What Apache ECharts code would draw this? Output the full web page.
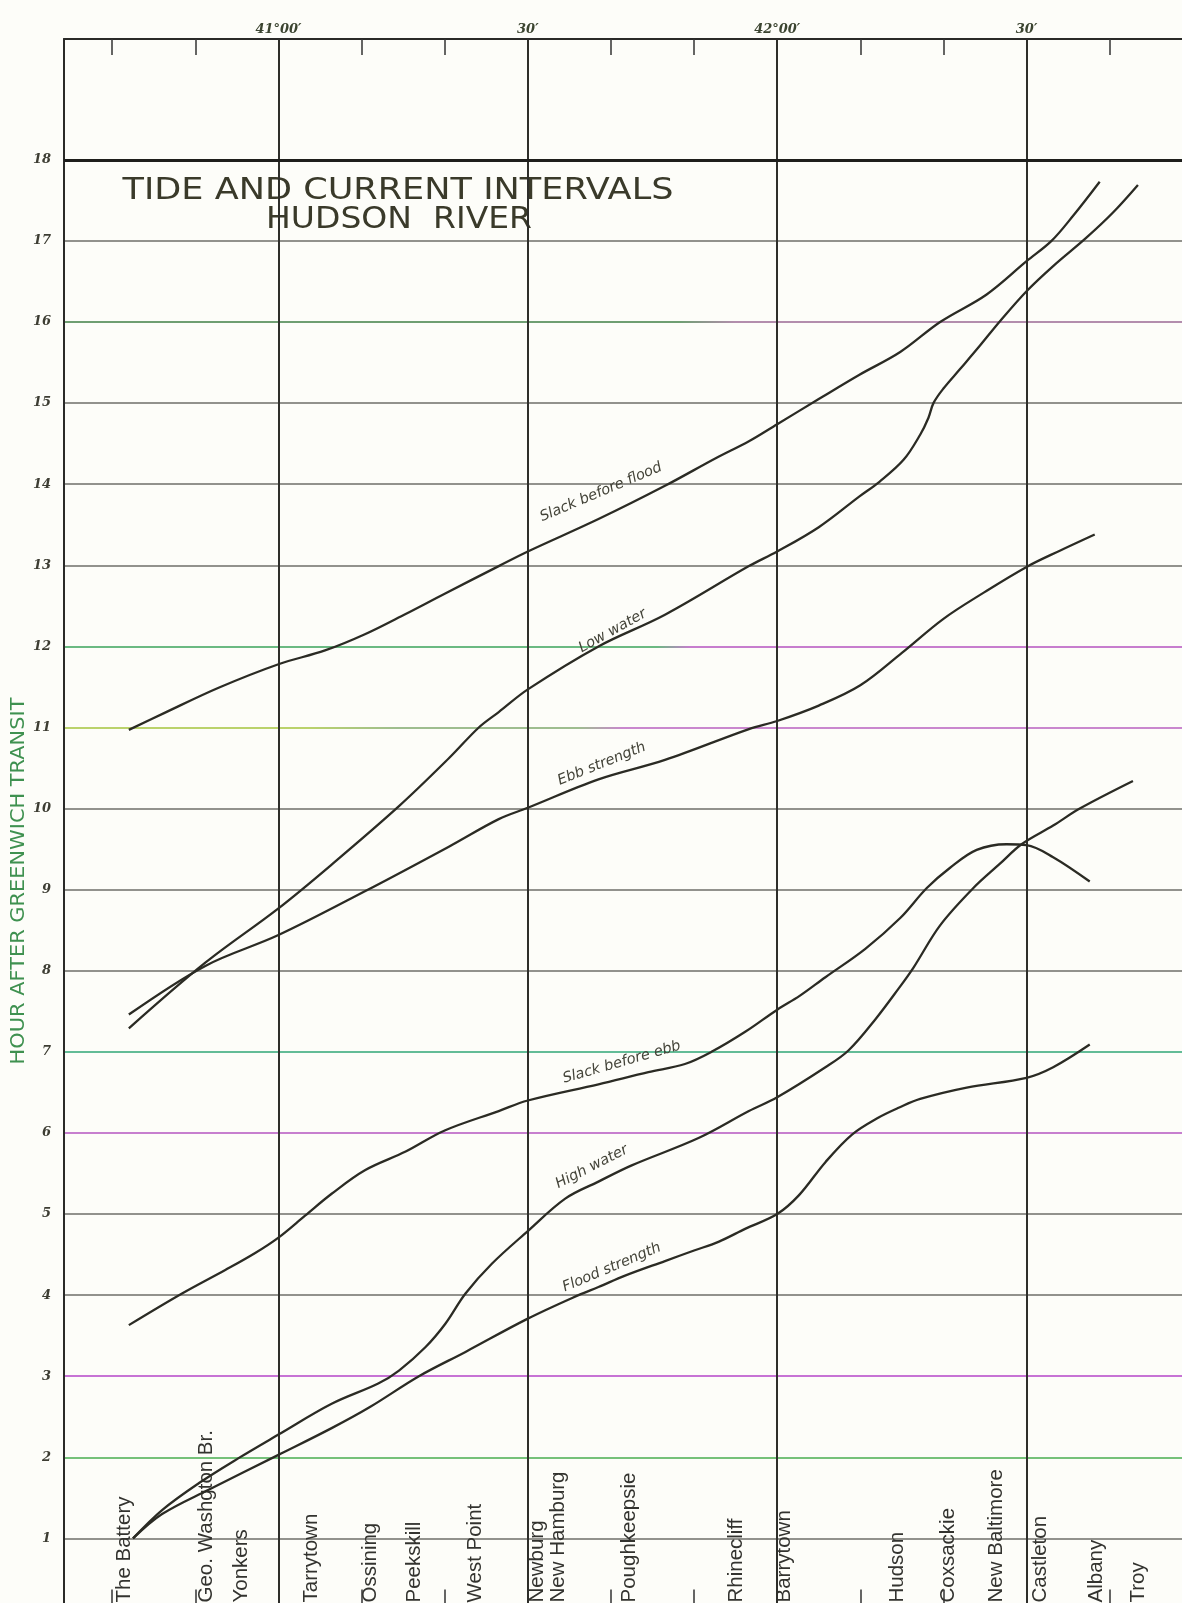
<!DOCTYPE html>
<html><head><meta charset="utf-8">
<script src="https://cdn.jsdelivr.net/npm/echarts@6/dist/echarts.min.js"></script>
<style>html,body{margin:0;padding:0;background:#fdfdf9}#c{width:1182px;height:1603px}</style>
</head><body><div id="c"></div>
<script>
// x values: minutes of latitude north of 40°N ; y values: hours after Greenwich transit
const stationNames = ['The Battery','Geo. Washgton Br.','Yonkers','Tarrytown','Ossining','Peekskill','West Point','Newburg','New Hamburg','Poughkeepsie','Rhinecliff','Barrytown','Hudson','Coxsackie','New Baltimore','Castleton','Albany','Troy'];
const stationLat = [41.5, 51.3, 55.5, 64, 71, 76.4, 83.7, 91.2, 93.7, 102.2, 115.1, 120.9, 134.5, 140.6, 146.4, 151.7, 158.4, 163.5];

const latLineValues = [60, 90, 120, 150];
const latLineLabels = ['41°00′', '30′', '42°00′', '30′'];
const latTickValues = [40, 50, 70, 80, 100, 110, 130, 140, 160];

const slackBeforeFlood = [[42,10.97],[46.3,11.18],[52.8,11.49],[60,11.78],[65.6,11.95],[70.4,12.15],[75.3,12.4],[80,12.65],[86.5,12.99],[90,13.17],[98.5,13.57],[106.5,13.98],[112.6,14.32],[116.6,14.53],[120,14.74],[125,15.05],[129.9,15.35],[134.8,15.63],[139.6,16.0],[145.2,16.34],[150,16.75],[153,17.0],[155.6,17.31],[158.8,17.73]];
const lowWater = [[42,7.29],[51.2,8.10],[60,8.77],[66.4,9.31],[74.5,10.03],[80.5,10.62],[84.1,11.0],[86.5,11.19],[90,11.47],[98.5,12.0],[106.5,12.39],[116.6,12.99],[120,13.17],[125,13.47],[129.9,13.85],[132.3,14.03],[135.2,14.3],[137.2,14.61],[138.2,14.82],[138.8,15.0],[140,15.18],[142,15.42],[144.4,15.71],[146.8,16.01],[150,16.38],[153.2,16.69],[157.2,17.04],[160.4,17.35],[163.4,17.69]];
const ebbStrength = [[42,7.46],[51.2,8.06],[60,8.44],[70.4,8.98],[80.5,9.53],[86.5,9.87],[90,10.01],[98.5,10.36],[106.5,10.6],[116.6,10.98],[120,11.08],[125,11.27],[130,11.52],[135,11.92],[140,12.34],[144.8,12.66],[150,12.98],[154,13.18],[158.2,13.38]];
const slackBeforeEbb = [[42,3.63],[48.4,4.02],[53.6,4.31],[57.2,4.52],[60,4.71],[63.2,4.98],[66.4,5.25],[70.4,5.54],[75.3,5.77],[80,6.03],[86.5,6.27],[90,6.4],[98.5,6.6],[104.5,6.75],[108.9,6.85],[112.1,7.0],[116.2,7.25],[120,7.52],[122.7,7.69],[125.8,7.92],[130.6,8.27],[134.8,8.65],[138,9.02],[140.8,9.27],[144,9.49],[147.6,9.56],[150,9.55],[153.2,9.4],[157.6,9.1]];
const highWater = [[42.5,1.0],[46,1.35],[50.4,1.68],[55.2,1.99],[60,2.28],[66.4,2.66],[72,2.91],[74.5,3.07],[77.7,3.36],[80.1,3.65],[82.5,4.02],[85.7,4.39],[90,4.79],[94.5,5.19],[98.5,5.4],[102.5,5.6],[110.6,5.94],[116.6,6.27],[120,6.44],[125.8,6.81],[128.6,7.02],[131.8,7.4],[134.6,7.78],[136.4,8.04],[139.6,8.56],[143.6,9.02],[146.8,9.32],[149.4,9.56],[153.2,9.79],[156.4,10.0],[162.8,10.34]];
const floodStrength = [[42.5,1.0],[46,1.3],[51.6,1.6],[60,2.03],[66.4,2.36],[71,2.62],[76.9,3.0],[82.5,3.3],[90,3.71],[96.1,4.0],[98.5,4.1],[101.7,4.24],[106.5,4.42],[110,4.55],[113,4.66],[116.2,4.82],[120,5.0],[122.6,5.23],[125.8,5.64],[129,5.98],[132.2,6.19],[134.6,6.31],[137.2,6.42],[142.8,6.56],[150,6.68],[153.2,6.81],[157.6,7.09]];

const curveNames = ['Slack before flood','Low water','Ebb strength','Slack before ebb','High water','Flood strength'];
const curveData = [slackBeforeFlood, lowWater, ebbStrength, slackBeforeEbb, highWater, floodStrength];
const curveLabelAt = [[98.8,13.9],[100.2,12.19],[98.9,10.55],[101.3,6.87],[97.7,5.58],[100.1,4.34]];
const curveLabelAngle = [23, 29, 22, 16, 27, 23];

const LG = (stops) => new echarts.graphic.LinearGradient(0, 0, 1, 0, stops.map(s => ({offset: s[0], color: s[1]})));
const gray = '#6e6e68';
const hourLineColors = [
  'rgba(0,0,0,0)', gray, '#47ad4f', '#b444c8', gray, gray, '#b455c0', '#2fa676', gray, gray, gray,
  LG([[0,'#a4c43c'],[0.22,'#a4c43c'],[0.3,'#7ea86c'],[0.46,'#7ea86c'],[0.5,'#b860c0'],[1,'#b860c0']]),
  LG([[0,'#3aa35a'],[0.53,'#3aa35a'],[0.56,'#b552c0'],[1,'#b552c0']]),
  gray, gray, gray,
  LG([[0,'#3f7f45'],[0.55,'#3f7f45'],[0.6,'#9a6894'],[1,'#9a6894']]),
  gray, '#222', 'rgba(0,0,0,0)', 'rgba(0,0,0,0)', 'rgba(0,0,0,0)'
];

const chart = echarts.init(document.getElementById('c'), null, {renderer: 'canvas'});

const series = curveData.map((d, i) => ({
  type: 'line', name: curveNames[i], data: d, xAxisIndex: 0, yAxisIndex: 0,
  smooth: 0.35, symbol: 'none', silent: true,
  lineStyle: {color: '#2b2b24', width: 2.3}, z: 5,
  markPoint: {
    symbol: 'circle', symbolSize: 1, silent: true,
    itemStyle: {color: 'rgba(0,0,0,0)'},
    data: [{coord: curveLabelAt[i], name: curveNames[i],
      label: {show: true, position: 'inside', rotate: curveLabelAngle[i], formatter: curveNames[i],
        fontFamily: 'DejaVu Sans', fontStyle: 'italic', fontSize: 14.5, color: '#434338'}}]
  }
}));

series[0].markLine = {
  silent: true, symbol: ['none', 'none'], label: {show: false},
  lineStyle: {color: '#2e2e2a', width: 2, type: 'solid'},
  data: latLineValues.map(v => ({xAxis: v})).concat([{yAxis: 18, lineStyle: {color: '#1e1e1c', width: 3.2, type: 'solid'}}])
};

chart.setOption({
  animation: false,
  backgroundColor: '#fdfdf9',
  grid: {left: 64, top: 39, right: 0, height: 1580.5, containLabel: false, outerBoundsMode: 'none'},
  xAxis: [
    {type: 'value', position: 'bottom', min: 34.2, max: 168.7,
      axisLine: {show: false, onZero: false}, splitLine: {show: false},
      axisTick: {show: true, inside: true, length: 30, customValues: latTickValues, lineStyle: {color: '#333', width: 1.5}},
      axisLabel: {show: true, inside: true, rotate: 90, margin: 17, customValues: stationLat, hideOverlap: false,
        formatter: v => stationNames[stationLat.indexOf(v)] || '',
        fontFamily: 'Liberation Sans', fontSize: 20.5, color: '#33332f'}},
    {type: 'value', position: 'top', min: 34.2, max: 168.7,
      axisLine: {show: true, onZero: false, lineStyle: {color: '#2a2a28', width: 2}}, splitLine: {show: false},
      axisTick: {show: true, inside: true, length: 16, customValues: latTickValues, lineStyle: {color: '#333', width: 1.5}},
      axisLabel: {show: true, customValues: latLineValues, margin: 3,
        formatter: v => latLineLabels[latLineValues.indexOf(v)] || '',
        fontFamily: 'DejaVu Serif', fontStyle: 'italic', fontWeight: 'bold', fontSize: 13, color: '#3b4430'}}
  ],
  yAxis: {type: 'value', min: 0, max: 19.49, interval: 1,
    axisLine: {show: true, onZero: false, lineStyle: {color: '#2a2a28', width: 2}},
    axisTick: {show: false},
    axisLabel: {formatter: v => (Number.isInteger(v) && v >= 1 && v <= 18) ? String(v) : '', margin: 13,
      fontFamily: 'DejaVu Serif', fontStyle: 'italic', fontWeight: 'bold', fontSize: 13, color: '#3d3d33'},
    splitLine: {show: true, lineStyle: {color: hourLineColors, width: 1.6}}},
  graphic: [
    {type: 'text', x: 398, y: 191, scaleX: 1.17, silent: true,
      style: {text: 'TIDE AND CURRENT INTERVALS', fontSize: 30, fontFamily: 'DejaVu Sans', fill: '#3a3a2a', align: 'center', verticalAlign: 'middle'}},
    {type: 'text', x: 399, y: 220, scaleX: 1.1, silent: true,
      style: {text: 'HUDSON  RIVER', fontSize: 30, fontFamily: 'DejaVu Sans', fill: '#3a3a2a', align: 'center', verticalAlign: 'middle'}},
    {type: 'text', x: 19, y: 881, rotation: Math.PI / 2, scaleX: 1.1, silent: true,
      style: {text: 'HOUR AFTER GREENWICH TRANSIT', fontSize: 19, fontFamily: 'DejaVu Sans', fill: '#3f9150', align: 'center', verticalAlign: 'middle'}}
  ],
  series: series
});
</script></body></html>
